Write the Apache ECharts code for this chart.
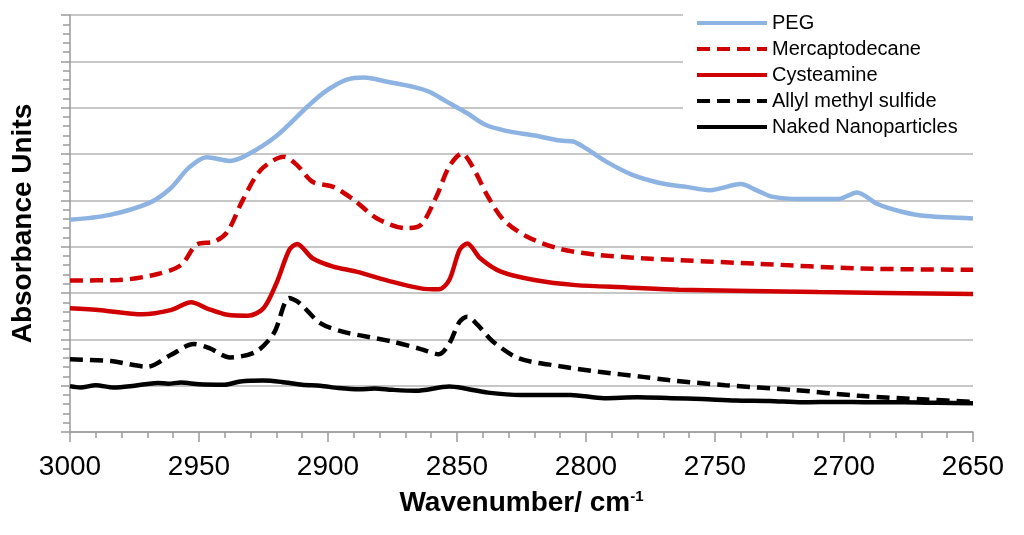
<!DOCTYPE html>
<html>
<head>
<meta charset="utf-8">
<script src="https://cdn.jsdelivr.net/npm/echarts@6/dist/echarts.min.js"></script>
<style>
  html, body { margin: 0; padding: 0; background: #fff; }
  #main { width: 1024px; height: 535px; }
</style>
</head>
<body>
<div id="main"></div>
<script>
// 波数 / 吸光度
let pegWn = [3000, 2985, 2969, 2961, 2954, 2947, 2938, 2932, 2920, 2908, 2901, 2893, 2886, 2877, 2867, 2861, 2854, 2846, 2839, 2831, 2820, 2810, 2805, 2800, 2792, 2782, 2771, 2761, 2752, 2740, 2734, 2728, 2717, 2702, 2695, 2687, 2678, 2668, 2650];
let pegAbs = [4.58, 4.68, 4.95, 5.26, 5.70, 5.93, 5.85, 5.96, 6.39, 7.02, 7.35, 7.60, 7.65, 7.56, 7.45, 7.35, 7.13, 6.88, 6.63, 6.50, 6.40, 6.29, 6.27, 6.12, 5.83, 5.55, 5.37, 5.29, 5.22, 5.35, 5.22, 5.08, 5.03, 5.03, 5.17, 4.92, 4.76, 4.66, 4.61];

let mercWn = [3000, 2981, 2966, 2957, 2951, 2944, 2939, 2933, 2926, 2917, 2912, 2906, 2898, 2890, 2881, 2870, 2864, 2858, 2853, 2848, 2844, 2838, 2832, 2823, 2810, 2795, 2778, 2764, 2733, 2694, 2650];
let mercAbs = [3.27, 3.28, 3.41, 3.60, 4.04, 4.11, 4.32, 5.01, 5.66, 5.94, 5.76, 5.40, 5.29, 5.01, 4.61, 4.40, 4.47, 5.08, 5.73, 6.01, 5.73, 5.08, 4.58, 4.22, 3.95, 3.82, 3.75, 3.71, 3.63, 3.53, 3.50];

let cystWn = [3000, 2988, 2972, 2961, 2953, 2947, 2939, 2931, 2925, 2920, 2915, 2912, 2906, 2898, 2889, 2875, 2864, 2857, 2853, 2849, 2846, 2841, 2833, 2820, 2804, 2784, 2764, 2710, 2650];
let cystAbs = [2.67, 2.63, 2.54, 2.63, 2.80, 2.67, 2.53, 2.51, 2.67, 3.21, 3.93, 4.06, 3.75, 3.57, 3.46, 3.24, 3.10, 3.08, 3.28, 3.93, 4.07, 3.75, 3.46, 3.28, 3.17, 3.12, 3.07, 3.02, 2.98];

let allylWn = [3000, 2984, 2970, 2961, 2952, 2946, 2938, 2928, 2921, 2915, 2911, 2903, 2894, 2888, 2875, 2864, 2857, 2853, 2849, 2846, 2842, 2836, 2826, 2810, 2795, 2778, 2768, 2746, 2720, 2694, 2668, 2650];
let allylAbs = [1.57, 1.53, 1.41, 1.66, 1.90, 1.81, 1.61, 1.73, 2.13, 2.89, 2.78, 2.35, 2.16, 2.09, 1.95, 1.79, 1.68, 1.91, 2.38, 2.49, 2.31, 1.95, 1.59, 1.42, 1.30, 1.19, 1.12, 1.01, 0.91, 0.78, 0.70, 0.65];

let nakedWn = [3000, 2996, 2990, 2983, 2975, 2966, 2962, 2957, 2950, 2940, 2934, 2925, 2918, 2910, 2903, 2896, 2888, 2882, 2875, 2866, 2853, 2847, 2838, 2825, 2806, 2793, 2780, 2767, 2755, 2742, 2729, 2716, 2703, 2690, 2677, 2664, 2650];
let nakedAbs = [0.99, 0.96, 1.01, 0.96, 1.00, 1.06, 1.04, 1.07, 1.03, 1.02, 1.09, 1.11, 1.08, 1.02, 1.00, 0.95, 0.92, 0.94, 0.91, 0.89, 0.98, 0.94, 0.85, 0.80, 0.80, 0.73, 0.75, 0.73, 0.71, 0.68, 0.67, 0.64, 0.65, 0.64, 0.64, 0.63, 0.62];

let xTicks = [3000, 2650, 50];   // max, min, interval

function pairs(wn, abs) {
	return wn.map((w, i) => [w, abs[i]]);
}

let myChart = echarts.init(document.getElementById('main'));

let FONT = 'Liberation Sans, Arial, sans-serif';
let GRID_C = '#b4b4b4';
let AXIS_C = '#9a9a9a';

function line(name, data, color, dashed) {
	return {
		name: name,
		type: 'line',
		data: data,
		smooth: 0.3,
		symbol: 'none',
		lineStyle: {
			color: color,
			width: 4.5,
			type: dashed ? [13, 7] : 'solid'
		},
		itemStyle: { color: color }
	};
}

let option = {
	backgroundColor: '#fff',
	animation: false,
	grid: {
		left: 70,
		right: 51,
		top: 15,
		bottom: 103
	},
	legend: {
		orient: 'vertical',
		left: 683,
		top: 5,
		padding: [8, 22, 8, 12],
		backgroundColor: '#fff',
		itemWidth: 70,
		itemHeight: 20,
		itemGap: 6,
		itemStyle: { opacity: 0 },		// 只显示线, 不显示圆点
		lineStyle: { width: 4 },
		textStyle: {
			fontFamily: FONT,
			fontSize: 20,
			color: '#000'
		},
		data: ['PEG', 'Mercaptodecane', 'Cysteamine', 'Allyl methyl sulfide', 'Naked Nanoparticles']
	},
	xAxis: {
		type: 'value',
		inverse: true,
		min: xTicks[1],
		max: xTicks[0],
		interval: xTicks[2],
		name: '{a|Wavenumber/ cm}{s|-1}',
		nameLocation: 'middle',
		nameGap: 57,
		nameTextStyle: {
			rich: {
				a: { fontFamily: FONT, fontSize: 28, fontWeight: 'bold', color: '#000' },
				s: { fontFamily: FONT, fontSize: 15, fontWeight: 'bold', color: '#000', verticalAlign: 'top', padding: [0, 0, 14, 0] }
			}
		},
		axisLine: { lineStyle: { color: AXIS_C, width: 1.5 } },
		axisTick: { length: 10, lineStyle: { color: AXIS_C, width: 1.5 } },
		minorTick: { show: true, splitNumber: 5, length: 6, lineStyle: { color: AXIS_C, width: 1.5 } },
		splitLine: { show: false },
		axisLabel: {
			margin: 21,
			fontFamily: FONT,
			fontSize: 28,
			color: '#000',
			formatter: v => String(v)
		}
	},
	yAxis: {
		type: 'value',
		min: 0,
		max: 9,
		interval: 1,
		name: 'Absorbance Units',
		nameLocation: 'middle',
		nameGap: 33,
		nameTextStyle: {
			fontFamily: FONT,
			fontSize: 28,
			fontWeight: 'bold',
			color: '#000'
		},
		axisLine: { show: true, lineStyle: { color: AXIS_C, width: 1.5 } },
		axisTick: { show: true, length: 9, lineStyle: { color: AXIS_C, width: 1.5 } },
		minorTick: { show: true, splitNumber: 5, length: 7, lineStyle: { color: AXIS_C, width: 1.5 } },
		splitLine: { lineStyle: { color: GRID_C, width: 1.5 } },
		axisLabel: { show: false }
	},
	series: [
		line('PEG', pairs(pegWn, pegAbs), '#8db3e2', false),
		line('Mercaptodecane', pairs(mercWn, mercAbs), '#d00000', true),
		line('Cysteamine', pairs(cystWn, cystAbs), '#d00000', false),
		line('Allyl methyl sulfide', pairs(allylWn, allylAbs), '#000', true),
		line('Naked Nanoparticles', pairs(nakedWn, nakedAbs), '#000', false)
	]
};

myChart.setOption(option);
</script>
</body>
</html>
